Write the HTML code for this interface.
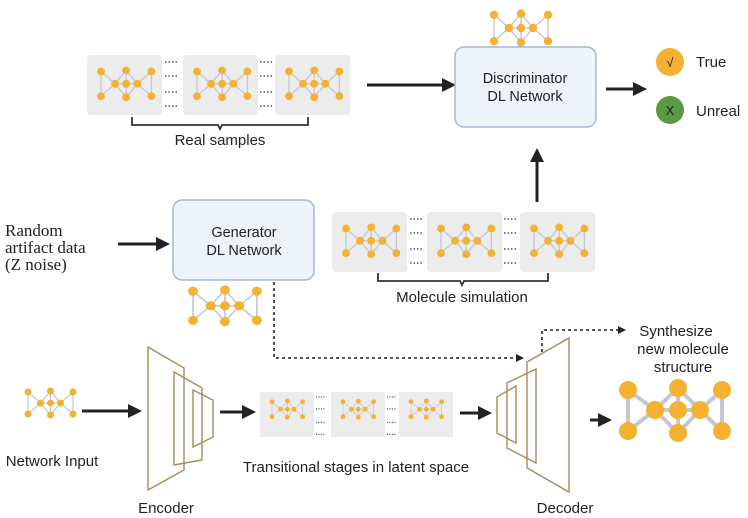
<!DOCTYPE html>
<html><head><meta charset="utf-8"><style>
html,body{margin:0;padding:0;background:#fff;}
svg{display:block;font-family:"Liberation Sans","DejaVu Sans",sans-serif;}
</style></head><body>
<svg width="748" height="518" viewBox="0 0 748 518" xmlns="http://www.w3.org/2000/svg">
<defs>
<g id="mol">
 <g stroke="#c4c8d4" stroke-width="2.4" fill="none">
  <line x1="0" y1="8" x2="0" y2="52"/><line x1="0" y1="8" x2="25" y2="30"/><line x1="0" y1="52" x2="25" y2="30"/>
  <line x1="25" y1="30" x2="45" y2="6"/><line x1="45" y1="6" x2="65" y2="30"/><line x1="65" y1="30" x2="45" y2="54"/><line x1="45" y1="54" x2="25" y2="30"/>
  <line x1="45" y1="6" x2="45" y2="54"/><line x1="25" y1="30" x2="65" y2="30"/>
  <line x1="65" y1="30" x2="90" y2="8"/><line x1="65" y1="30" x2="90" y2="52"/><line x1="90" y1="8" x2="90" y2="52"/>
 </g>
 <g fill="#f5b132">
  <circle cx="0" cy="8" r="7"/><circle cx="0" cy="52" r="7"/><circle cx="25" cy="30" r="7"/><circle cx="45" cy="6" r="7"/>
  <circle cx="45" cy="30" r="7"/><circle cx="45" cy="54" r="7"/><circle cx="65" cy="30" r="7"/><circle cx="90" cy="8" r="7"/><circle cx="90" cy="52" r="7"/>
 </g>
</g>
<marker id="ah" markerWidth="8" markerHeight="8" refX="6" refY="4" orient="auto" markerUnits="userSpaceOnUse"><path d="M0,0 L8,4 L0,8z" fill="#222"/></marker>
<marker id="ab" markerWidth="14" markerHeight="14" refX="10" refY="7" orient="auto" markerUnits="userSpaceOnUse"><path d="M0,0 L14,7 L0,14z" fill="#222"/></marker>
<g id="dots" stroke="#555" stroke-width="1.5" stroke-dasharray="1.5,2"><line x1="0" y1="0" x2="14" y2="0"/><line x1="0" y1="14" x2="14" y2="14"/><line x1="0" y1="30" x2="14" y2="30"/><line x1="0" y1="44" x2="14" y2="44"/></g>
</defs>

<!-- Real samples -->
<rect x="87" y="55" width="75" height="60" rx="4" fill="#ececec"/>
<rect x="183" y="55" width="75" height="60" rx="4" fill="#ececec"/>
<rect x="275" y="55" width="75" height="60" rx="4" fill="#ececec"/>
<use href="#mol" transform="translate(101,67) scale(0.56)"/>
<use href="#mol" transform="translate(197,67) scale(0.56)"/>
<use href="#mol" transform="translate(289,67) scale(0.56)"/>
<use href="#dots" transform="translate(165,62)"/>
<use href="#dots" transform="translate(260,62)"/>
<path d="M132,117 V125 H218 L220,129 L222,125 H308 V117" fill="none" stroke="#333" stroke-width="1.8"/>
<text x="220" y="145" font-size="15" text-anchor="middle" fill="#222">Real samples</text>
<line x1="367" y1="85" x2="452" y2="85" stroke="#222" stroke-width="3" marker-end="url(#ab)"/>

<!-- Discriminator -->
<use href="#mol" transform="translate(494,10) scale(0.6)"/>
<rect x="455" y="47" width="141" height="80" rx="9" fill="#eef2fb" stroke="#a7b5d8" stroke-width="1.5"/>
<text x="525" y="83" font-size="14.5" text-anchor="middle" fill="#222">Discriminator</text>
<text x="525" y="101" font-size="14.5" text-anchor="middle" fill="#222">DL Network</text>
<line x1="606" y1="89" x2="643" y2="89" stroke="#222" stroke-width="3" marker-end="url(#ab)"/>
<circle cx="670" cy="62" r="14" fill="#f5b132"/>
<text x="670" y="67" font-size="13" text-anchor="middle" fill="#222">√</text>
<text x="696" y="67" font-size="15" fill="#222">True</text>
<circle cx="670" cy="110" r="14" fill="#5a9a42"/>
<text x="670" y="115" font-size="13" text-anchor="middle" fill="#222">X</text>
<text x="696" y="116" font-size="15" fill="#222">Unreal</text>
<line x1="537" y1="202" x2="537" y2="152" stroke="#222" stroke-width="3" marker-end="url(#ab)"/>

<!-- Random -->
<text x="5" y="236" font-size="17" fill="#222" font-family="Liberation Serif, serif">Random</text>
<text x="5" y="253" font-size="17" fill="#222" font-family="Liberation Serif, serif">artifact data</text>
<text x="5" y="270" font-size="17" fill="#222" font-family="Liberation Serif, serif">(Z noise)</text>
<line x1="118" y1="244" x2="166" y2="244" stroke="#222" stroke-width="3" marker-end="url(#ab)"/>

<!-- Generator -->
<rect x="173" y="200" width="141" height="80" rx="9" fill="#eef2fb" stroke="#a7b5d8" stroke-width="1.5"/>
<text x="244" y="237" font-size="14.5" text-anchor="middle" fill="#222">Generator</text>
<text x="244" y="255" font-size="14.5" text-anchor="middle" fill="#222">DL Network</text>
<use href="#mol" transform="translate(193,286) scale(0.71,0.66)"/>

<!-- Molecule simulation -->
<rect x="332" y="212" width="75" height="60" rx="4" fill="#ececec"/>
<rect x="427" y="212" width="75" height="60" rx="4" fill="#ececec"/>
<rect x="520" y="212" width="75" height="60" rx="4" fill="#ececec"/>
<use href="#mol" transform="translate(346,224) scale(0.56)"/>
<use href="#mol" transform="translate(441,224) scale(0.56)"/>
<use href="#mol" transform="translate(534,224) scale(0.56)"/>
<use href="#dots" transform="translate(410,219)"/>
<use href="#dots" transform="translate(504,219)"/>
<path d="M378,273 V281 H460 L462,285 L464,281 H548 V273" fill="none" stroke="#333" stroke-width="1.8"/>
<text x="462" y="302" font-size="15" text-anchor="middle" fill="#222">Molecule simulation</text>

<!-- dotted paths -->
<path d="M274,282 V358 H522" fill="none" stroke="#222" stroke-width="1.6" stroke-dasharray="3,3" marker-end="url(#ah)"/>
<path d="M542,352 V330 H624" fill="none" stroke="#222" stroke-width="1.6" stroke-dasharray="3,3" marker-end="url(#ah)"/>
<text x="676" y="336" font-size="15" text-anchor="middle" fill="#222">Synthesize</text>
<text x="683" y="354" font-size="15" text-anchor="middle" fill="#222">new molecule</text>
<text x="683" y="372" font-size="15" text-anchor="middle" fill="#222">structure</text>

<!-- Network input -->
<use href="#mol" transform="translate(28,388) scale(0.5)"/>
<text x="52" y="466" font-size="15" text-anchor="middle" fill="#222">Network Input</text>
<line x1="82" y1="411" x2="138" y2="411" stroke="#222" stroke-width="3" marker-end="url(#ab)"/>

<!-- Encoder -->
<g fill="none" stroke="#a8895a" stroke-width="1.4">
<polygon points="148,347 184,368 184,470 148,490"/>
<polygon points="174,372 202,388 202,460 174,465"/>
<polygon points="193,390 213,400 213,437 193,447"/>
</g>
<text x="166" y="513" font-size="15" text-anchor="middle" fill="#222">Encoder</text>
<line x1="220" y1="412" x2="252" y2="412" stroke="#222" stroke-width="3" marker-end="url(#ab)"/>

<!-- latent -->
<rect x="260" y="392" width="54" height="45" fill="#ececec"/>
<rect x="331" y="392" width="54" height="45" fill="#ececec"/>
<rect x="399" y="392" width="54" height="45" fill="#ececec"/>
<use href="#mol" transform="translate(272,399) scale(0.34)"/>
<use href="#mol" transform="translate(343,399) scale(0.34)"/>
<use href="#mol" transform="translate(411,399) scale(0.34)"/>
<g transform="translate(316,397) scale(0.7,0.85)"><use href="#dots"/></g>
<g transform="translate(387,397) scale(0.7,0.85)"><use href="#dots"/></g>
<text x="356" y="472" font-size="15" text-anchor="middle" fill="#222">Transitional stages in latent space</text>
<line x1="460" y1="413" x2="488" y2="413" stroke="#222" stroke-width="3" marker-end="url(#ab)"/>

<!-- Decoder -->
<g fill="none" stroke="#a8895a" stroke-width="1.4">
<polygon points="569,338 569,492 527,468 527,362"/>
<polygon points="536,369 536,463 507,448 507,383"/>
<polygon points="516,386 516,443 497,433 497,397"/>
</g>
<text x="565" y="513" font-size="15" text-anchor="middle" fill="#222">Decoder</text>
<line x1="590" y1="420" x2="608" y2="420" stroke="#222" stroke-width="3" marker-end="url(#ab)"/>

<!-- big output molecule -->
<g stroke="#c4c8d4" stroke-width="4" fill="none">
 <line x1="628" y1="390" x2="628" y2="431"/><line x1="628" y1="390" x2="655" y2="410"/><line x1="628" y1="431" x2="655" y2="410"/>
 <line x1="655" y1="410" x2="678" y2="388"/><line x1="678" y1="388" x2="700" y2="410"/><line x1="700" y1="410" x2="678" y2="433"/><line x1="678" y1="433" x2="655" y2="410"/>
 <line x1="678" y1="388" x2="678" y2="433"/><line x1="655" y1="410" x2="700" y2="410"/>
 <line x1="700" y1="410" x2="722" y2="390"/><line x1="700" y1="410" x2="722" y2="431"/><line x1="722" y1="390" x2="722" y2="431"/>
</g>
<g fill="#f5b132">
 <circle cx="628" cy="390" r="9"/><circle cx="628" cy="431" r="9"/><circle cx="655" cy="410" r="9"/><circle cx="678" cy="388" r="9"/>
 <circle cx="678" cy="410" r="9"/><circle cx="678" cy="433" r="9"/><circle cx="700" cy="410" r="9"/><circle cx="722" cy="390" r="9"/><circle cx="722" cy="431" r="9"/>
</g>
</svg>
</body></html>
